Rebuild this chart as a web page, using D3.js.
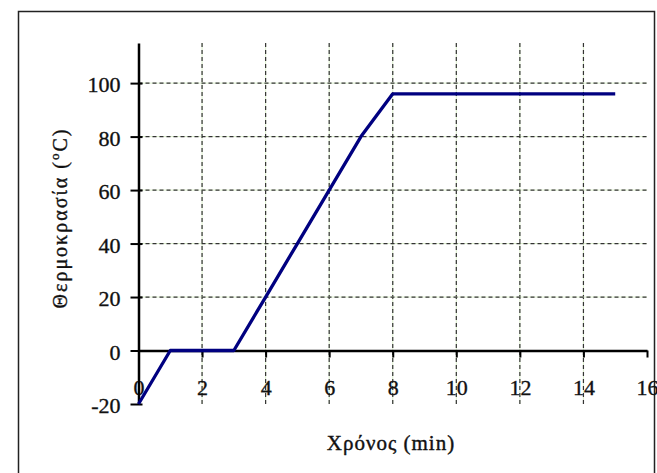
<!DOCTYPE html>
<html>
<head>
<meta charset="utf-8">
<script src="https://cdn.jsdelivr.net/npm/d3@7"></script>
<style>
  body { margin: 0; background: white; }
  svg text { font-family: "Liberation Serif", "DejaVu Serif", serif; fill: #111; }
</style>
</head>
<body>
<div id="chart"></div>
<script>
// data
var timeMin = [0, 1, 3, 4, 5, 6, 7, 8, 15];
var tempC = [-20, 0, 0, 20, 40, 60, 80, 96, 96];
var xTicks = [0, 2, 4, 6, 8, 10, 12, 14, 16];
var yTicks = [-20, 0, 20, 40, 60, 80, 100];
var xGrid = [2, 4, 6, 8, 10, 12, 14];
var yGrid = [20, 40, 60, 80, 100];

var W = 657, H = 473;
var lineColor = "#000080";

var svg = d3.select("#chart").append("svg")
    .attr("width", W)
    .attr("height", H);

// outer frame
svg.append("rect")
    .attr("x", 18.5).attr("y", 11.5)
    .attr("width", 636).attr("height", 470)
    .attr("fill", "white")
    .attr("stroke", "#222")
    .attr("stroke-width", 1.5);

var x = d3.scaleLinear().domain([0, 16]).range([138.5, 647]);
var y = d3.scaleLinear().domain([-20, 115]).range([404, 43]);

// gridlines (light line under dark dashes, like the original)
var grid = svg.append("g");
xGrid.forEach(function(v) {
    grid.append("line")
        .attr("x1", x(v)).attr("x2", x(v))
        .attr("y1", y(115)).attr("y2", y(-20))
        .attr("stroke", "#dcefcc").attr("stroke-width", 1);
    grid.append("line")
        .attr("x1", x(v)).attr("x2", x(v))
        .attr("y1", y(115)).attr("y2", y(-20))
        .attr("stroke", "#333").attr("stroke-width", 1.2)
        .attr("stroke-dasharray", "4,3");
});
yGrid.forEach(function(v) {
    grid.append("line")
        .attr("x1", x(0)).attr("x2", x(16))
        .attr("y1", y(v)).attr("y2", y(v))
        .attr("stroke", "#dcefcc").attr("stroke-width", 1);
    grid.append("line")
        .attr("x1", x(0)).attr("x2", x(16))
        .attr("y1", y(v)).attr("y2", y(v))
        .attr("stroke", "#333").attr("stroke-width", 1.2)
        .attr("stroke-dasharray", "4,3");
});

function styleText(sel) {
    sel.attr("font-size", "22px")
        .attr("font-family", "Liberation Serif, serif")
        .attr("fill", "#111")
        .attr("stroke", "#111")
        .attr("stroke-width", 0.35);
}

// x axis sits on y = 0
var xAxis = svg.append("g")
    .attr("transform", "translate(0," + y(0) + ")")
    .call(d3.axisBottom(x).tickValues(xTicks).tickFormat(d => String(d))
        .tickSizeInner(7).tickSizeOuter(0).tickPadding(22));
xAxis.select(".domain").attr("stroke", "#000").attr("stroke-width", 2.5);
xAxis.selectAll(".tick line").attr("stroke", "#000").attr("stroke-width", 2);
styleText(xAxis.selectAll(".tick text"));

// y axis at x = 0
var yAxis = svg.append("g")
    .attr("transform", "translate(" + x(0) + ",0)")
    .call(d3.axisLeft(y).tickValues(yTicks).tickFormat(d => String(d))
        .tickSizeInner(8).tickSizeOuter(0).tickPadding(10));
yAxis.select(".domain").attr("stroke", "#000").attr("stroke-width", 2.5);
yAxis.selectAll(".tick line").attr("stroke", "#000").attr("stroke-width", 2).attr("x2", -8).attr("x1", 4);
styleText(yAxis.selectAll(".tick text"));
yAxis.selectAll(".tick text").attr("dy", "0.4em");

// the curve
var pts = timeMin.map(function(t, i) { return [t, tempC[i]]; });
svg.append("path")
    .datum(pts)
    .attr("fill", "none")
    .attr("stroke", lineColor)
    .attr("stroke-width", 3.3)
    .attr("stroke-linejoin", "round")
    .attr("d", d3.line().x(d => x(d[0])).y(d => y(d[1])));

// axis titles
svg.append("text")
    .attr("x", 391).attr("y", 450)
    .attr("text-anchor", "middle")
    .attr("font-size", "21px")
    .attr("letter-spacing", "1px")
    .attr("stroke", "#111").attr("stroke-width", 0.4)
    .text("Χρόνος (min)");

var yt = svg.append("text")
    .attr("transform", "translate(67,218) rotate(-90)")
    .attr("text-anchor", "middle")
    .attr("font-size", "20px")
    .attr("letter-spacing", "2px")
    .attr("stroke", "#111").attr("stroke-width", 0.35);
yt.append("tspan").text("Θερμοκρασία (");
yt.append("tspan").attr("font-size", "13px").attr("dy", "-8").text("o");
yt.append("tspan").attr("dy", "8").text("C)");
</script>
</body>
</html>
